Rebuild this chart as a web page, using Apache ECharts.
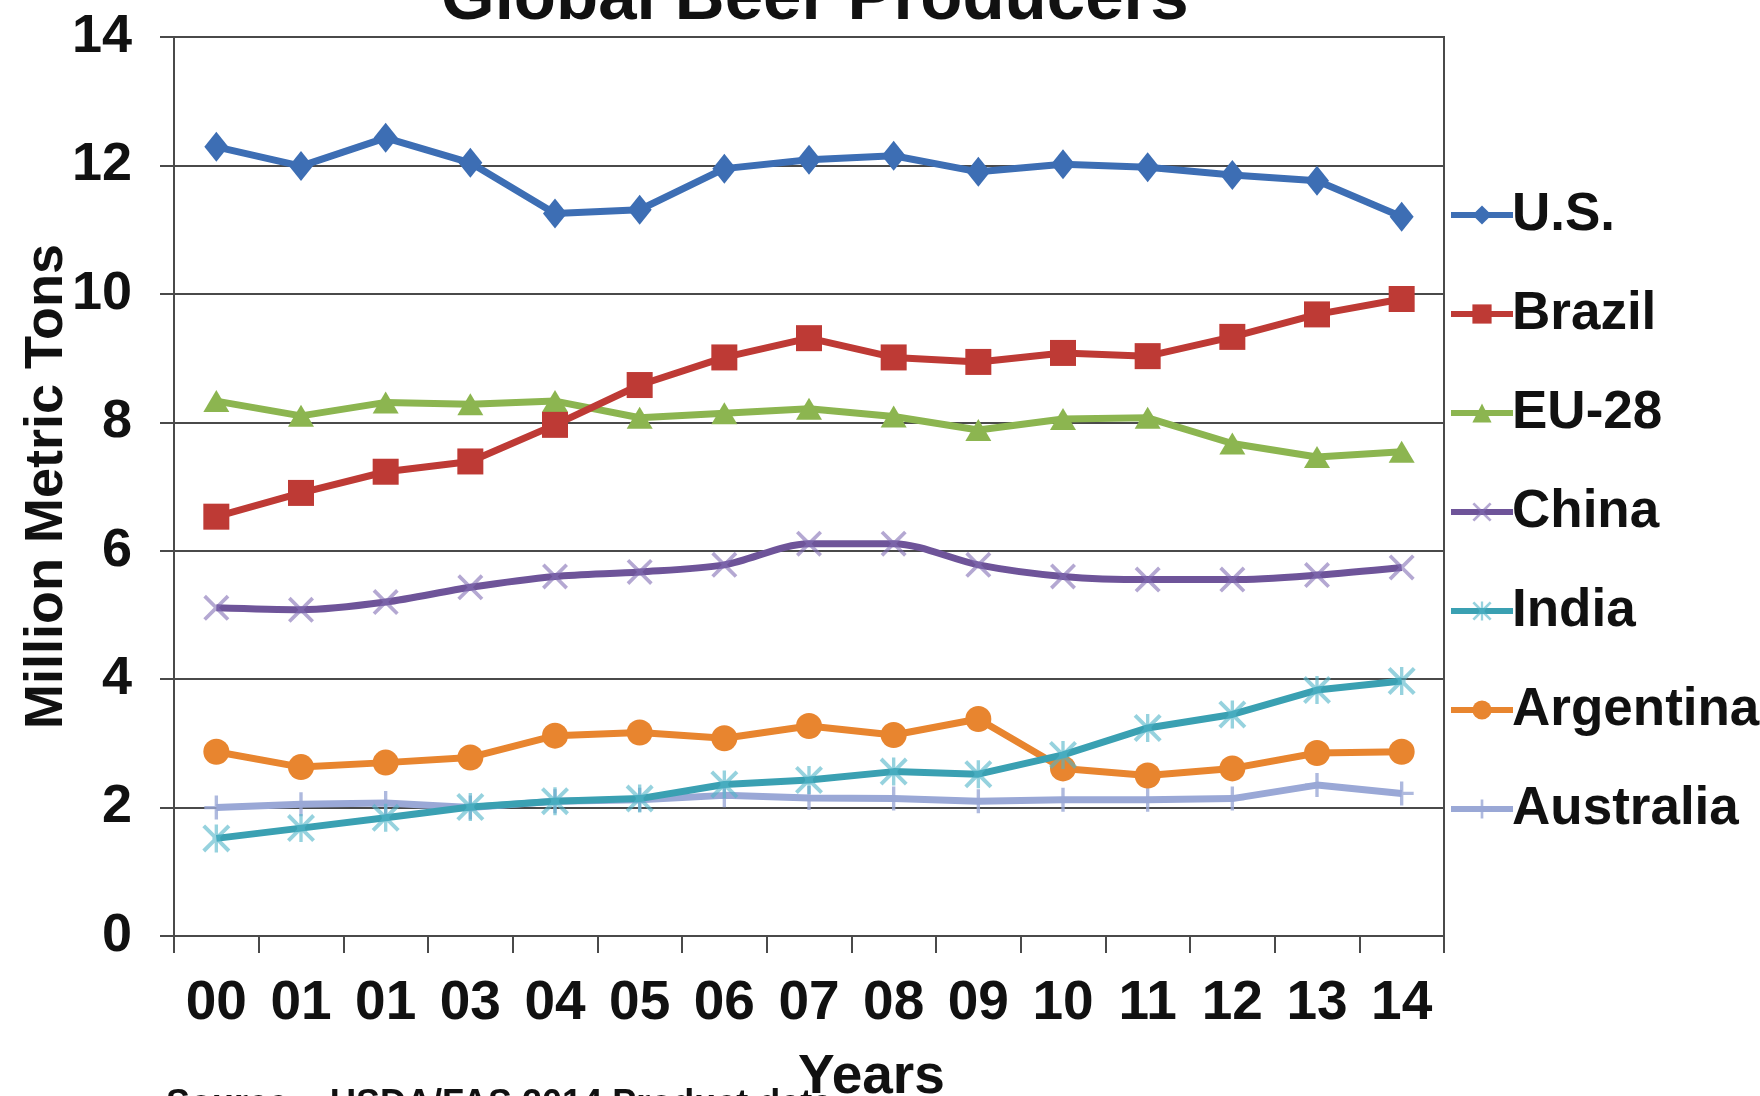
<!DOCTYPE html>
<html>
<head>
<meta charset="utf-8">
<script src="https://cdn.jsdelivr.net/npm/echarts@6/dist/echarts.min.js"></script>
<style>
html,body{margin:0;padding:0;background:#fff;}
#chart{width:1760px;height:1096px;}
</style>
</head>
<body>
<div id="chart"></div>
<script>
const years = ['00','01','01','03','04','05','06','07','08','09','10','11','12','13','14'];
const yTicks = [0, 2, 4, 6, 8, 10, 12, 14];
const usData = [12.29, 11.99, 12.43, 12.04, 11.25, 11.31, 11.95, 12.09, 12.15, 11.90, 12.02, 11.97, 11.85, 11.76, 11.20];
const brazilData = [6.53, 6.90, 7.23, 7.39, 7.96, 8.58, 9.01, 9.31, 9.01, 8.94, 9.08, 9.03, 9.33, 9.68, 9.92];
const euData = [8.33, 8.10, 8.31, 8.28, 8.33, 8.07, 8.14, 8.21, 8.09, 7.88, 8.05, 8.07, 7.67, 7.46, 7.54];
const chinaData = [5.11, 5.08, 5.20, 5.43, 5.60, 5.67, 5.78, 6.11, 6.11, 5.78, 5.60, 5.55, 5.55, 5.62, 5.74];
const indiaData = [1.52, 1.68, 1.84, 2.01, 2.10, 2.14, 2.36, 2.43, 2.56, 2.52, 2.82, 3.24, 3.45, 3.83, 3.97];
const argentinaData = [2.87, 2.63, 2.70, 2.78, 3.12, 3.17, 3.08, 3.27, 3.13, 3.38, 2.61, 2.50, 2.61, 2.85, 2.87];
const australiaData = [2.00, 2.05, 2.07, 2.00, 2.10, 2.12, 2.19, 2.15, 2.14, 2.10, 2.12, 2.12, 2.14, 2.35, 2.22];

const seriesNames = ['U.S.', 'Brazil', 'EU-28', 'China', 'India', 'Argentina', 'Australia'];
const seriesData = [usData, brazilData, euData, chinaData, indiaData, argentinaData, australiaData];

const colors = ['#3d6eb4', '#be3a35', '#8cb550', '#6e5499', '#3aa0b2', '#e8852f', '#9aa8d6'];
const markerColors = ['#3d6eb4', '#be3a35', '#8cb550', 'rgba(130,110,180,0.6)', 'rgba(80,180,200,0.6)', '#e8852f', 'rgba(154,168,214,0.8)'];
const X_PATH = 'path://M0,1 L1,0 L5,4 L9,0 L10,1 L6,5 L10,9 L9,10 L5,6 L1,10 L0,9 L4,5 Z';
const STAR_PATH = 'path://M0,1 L1,0 L4.4,3.4 L4.4,0 L5.6,0 L5.6,3.4 L9,0 L10,1 L6.4,4.6 L6.4,5.4 L10,9 L9,10 L5.6,6.6 L5.6,10 L4.4,10 L4.4,6.6 L1,10 L0,9 L3.6,5.4 L3.6,4.6 Z';
const PLUS_PATH = 'path://M4.3,0 H5.7 V4.3 H10 V5.7 H5.7 V10 H4.3 V5.7 H0 V4.3 H4.3 Z';
const symbols = ['diamond', 'rect', 'triangle', X_PATH, STAR_PATH, 'circle', PLUS_PATH];
const symbolSizes = [[24, 30], 26, [26, 22], 26, 28, 26, 24];
const smoothFlags = [false, false, false, 0.3, false, false, false];

const FONT = 'Liberation Sans, Arial, sans-serif';
const chart = echarts.init(document.getElementById('chart'));

const series = seriesNames.map((name, i) => ({
  name: name,
  type: 'line',
  data: seriesData[i],
  symbol: symbols[i],
  symbolSize: symbolSizes[i],
  smooth: smoothFlags[i],
  z: 10 - i,
  lineStyle: { color: colors[i], width: 7 },
  itemStyle: { color: markerColors[i] },
  emphasis: { disabled: true },
  animation: false
}));

chart.setOption({
  backgroundColor: '#ffffff',
  animation: false,
  grid: {
    left: 174, right: 316, top: 37, bottom: 160,
    outerBoundsMode: 'none',
    containLabel: false,
    show: true, borderColor: '#4a4a4a', borderWidth: 2, backgroundColor: 'transparent'
  },
  legend: {
    orient: 'vertical',
    left: 1443,
    top: 182,
    itemWidth: 62,
    itemHeight: 24,
    itemGap: 43,
    lineStyle: { width: 6 },
    textStyle: { fontFamily: FONT, fontSize: 53, fontWeight: 'bold', color: '#111', lineHeight: 56, padding: [0, 0, 0, -6] },
    data: seriesNames,
    selectedMode: false
  },
  xAxis: {
    type: 'category',
    data: years,
    boundaryGap: true,
    axisLine: { lineStyle: { color: '#4a4a4a', width: 2 } },
    axisTick: { show: true, length: 17, lineStyle: { color: '#4a4a4a', width: 2 } },
    axisLabel: { fontFamily: FONT, fontSize: 55, fontWeight: 'bold', color: '#111', margin: 40 },
    splitLine: { show: false }
  },
  yAxis: {
    type: 'value',
    min: yTicks[0],
    max: yTicks[yTicks.length - 1],
    interval: 2,
    name: 'Million Metric Tons',
    nameLocation: 'middle',
    nameRotate: 90,
    nameGap: 100,
    nameMoveOverlap: false,
    nameTextStyle: { fontFamily: FONT, fontSize: 54, fontWeight: 'bold', color: '#111' },
    axisLine: { show: true, lineStyle: { color: '#4a4a4a', width: 2 } },
    axisTick: { show: true, length: 14, lineStyle: { color: '#4a4a4a', width: 2 } },
    axisLabel: { fontFamily: FONT, fontSize: 54, fontWeight: 'bold', color: '#111', margin: 42 },
    splitLine: { show: true, lineStyle: { color: '#4a4a4a', width: 2 } }
  },
  graphic: [
    {
      type: 'text',
      left: 441,
      top: -35,
      style: { text: 'Global Beer Producers', fontFamily: FONT, fontSize: 69, fontWeight: 'bold', fill: '#111' }
    },
    {
      type: 'text',
      left: 798,
      top: 1050,
      style: { text: 'Years', fontFamily: FONT, fontSize: 55, fontWeight: 'bold', fill: '#111' }
    },
    {
      type: 'text',
      left: 166,
      top: 1087,
      style: { text: 'Source:   USDA/FAS 2014 Product data', fontFamily: FONT, fontSize: 36, fontWeight: 'bold', fill: '#111' }
    }
  ],
  series: series
});
</script>
</body>
</html>
